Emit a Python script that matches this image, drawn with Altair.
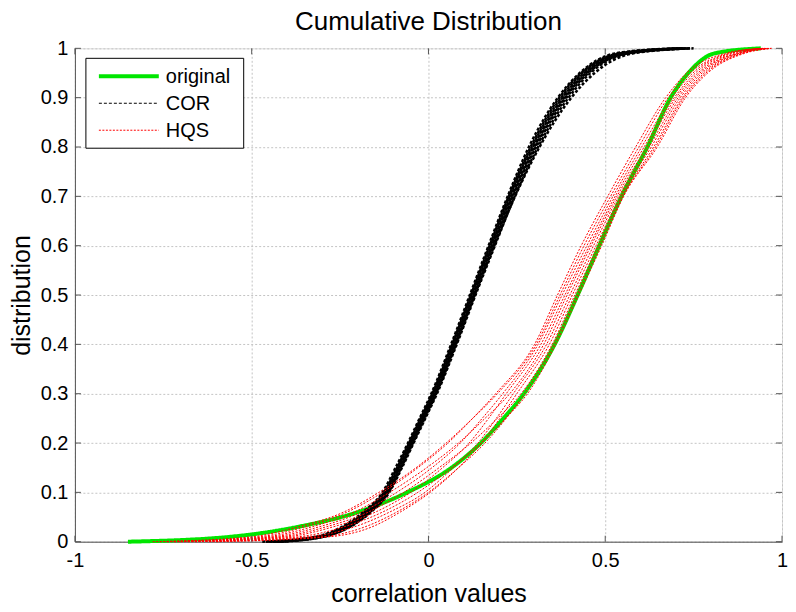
import altair as alt
import pandas as pd

# ---- data (x positions at fixed cumulative levels) ----
levels = [0, 0.01, 0.03, 0.06, 0.1, 0.15, 0.2, 0.25, 0.3, 0.4, 0.5, 0.6, 0.7, 0.8, 0.9, 0.95, 0.99, 1.0]

original_x = [-0.85, -0.56, -0.37, -0.20, -0.06, 0.065, 0.148, 0.212, 0.270, 0.357, 0.422, 0.483, 0.546, 0.619, 0.685, 0.735, 0.81, 0.94]

cor_1 = [-0.47, -0.32, -0.245, -0.185, -0.130, -0.093, -0.058, -0.025, 0.008, 0.064, 0.117, 0.170, 0.224, 0.284, 0.366, 0.428, 0.53, 0.70]
cor_2 = [-0.46, -0.315, -0.240, -0.180, -0.126, -0.089, -0.055, -0.022, 0.011, 0.067, 0.120, 0.173, 0.227, 0.289, 0.370, 0.432, 0.54, 0.71]
cor_3 = [-0.45, -0.310, -0.237, -0.177, -0.123, -0.087, -0.053, -0.020, 0.013, 0.069, 0.122, 0.176, 0.230, 0.292, 0.375, 0.436, 0.545, 0.72]
cor_4 = [-0.44, -0.305, -0.233, -0.173, -0.120, -0.084, -0.050, -0.017, 0.016, 0.072, 0.125, 0.179, 0.233, 0.296, 0.379, 0.440, 0.55, 0.72]
cor_5 = [-0.45, -0.308, -0.230, -0.170, -0.118, -0.082, -0.048, -0.015, 0.018, 0.074, 0.127, 0.181, 0.236, 0.299, 0.383, 0.445, 0.555, 0.73]
cor_6 = [-0.43, -0.300, -0.227, -0.167, -0.115, -0.079, -0.046, -0.013, 0.020, 0.076, 0.129, 0.183, 0.238, 0.302, 0.386, 0.448, 0.56, 0.73]
cor_7 = [-0.44, -0.298, -0.224, -0.165, -0.113, -0.077, -0.044, -0.011, 0.022, 0.078, 0.131, 0.185, 0.240, 0.305, 0.390, 0.452, 0.565, 0.74]
cor_8 = [-0.42, -0.295, -0.222, -0.163, -0.111, -0.075, -0.042, -0.009, 0.024, 0.080, 0.133, 0.188, 0.244, 0.310, 0.396, 0.458, 0.57, 0.74]
cor_9 = [-0.43, -0.302, -0.228, -0.168, -0.117, -0.080, -0.047, -0.014, 0.019, 0.076, 0.130, 0.186, 0.245, 0.314, 0.404, 0.470, 0.58, 0.75]

hqs_1 = [-0.78, -0.50, -0.37, -0.24, -0.14, -0.035, 0.050, 0.125, 0.195, 0.305, 0.372, 0.440, 0.515, 0.595, 0.678, 0.740, 0.850, 0.945]
hqs_2 = [-0.76, -0.48, -0.35, -0.23, -0.13, -0.030, 0.055, 0.125, 0.190, 0.300, 0.365, 0.432, 0.507, 0.586, 0.671, 0.730, 0.840, 0.940]
hqs_3 = [-0.74, -0.46, -0.33, -0.21, -0.11, -0.005, 0.085, 0.160, 0.230, 0.326, 0.392, 0.460, 0.533, 0.617, 0.700, 0.762, 0.870, 0.955]
hqs_4 = [-0.72, -0.44, -0.31, -0.19, -0.09, 0.010, 0.090, 0.152, 0.210, 0.310, 0.378, 0.448, 0.522, 0.603, 0.688, 0.748, 0.855, 0.950]
hqs_5 = [-0.72, -0.42, -0.29, -0.17, -0.07, 0.030, 0.120, 0.195, 0.262, 0.350, 0.414, 0.480, 0.547, 0.637, 0.718, 0.780, 0.885, 0.965]
hqs_6 = [-0.70, -0.40, -0.27, -0.15, -0.05, 0.040, 0.115, 0.170, 0.220, 0.318, 0.386, 0.455, 0.528, 0.610, 0.695, 0.755, 0.862, 0.950]
hqs_7 = [-0.68, -0.37, -0.24, -0.13, -0.03, 0.065, 0.150, 0.218, 0.280, 0.360, 0.425, 0.490, 0.552, 0.647, 0.727, 0.790, 0.895, 0.970]
hqs_8 = [-0.66, -0.34, -0.21, -0.11, -0.01, 0.070, 0.140, 0.192, 0.240, 0.334, 0.400, 0.467, 0.538, 0.624, 0.706, 0.768, 0.875, 0.960]
hqs_9 = [-0.62, -0.30, -0.18, -0.09, 0.00, 0.085, 0.160, 0.220, 0.272, 0.355, 0.420, 0.485, 0.550, 0.642, 0.722, 0.785, 0.890, 0.970]
hqs_10 = [-0.60, -0.28, -0.16, -0.08, 0.005, 0.085, 0.150, 0.202, 0.250, 0.342, 0.407, 0.474, 0.543, 0.630, 0.712, 0.774, 0.880, 0.960]

series_names = ["original", "COR", "HQS"]
series_colors = ["#00e600", "#000000", "#ff0000"]
series_dashes = [[1, 0], [3, 2], [2, 1.5]]
series_widths = [4, 1, 1]
x_ticks = [-1, -0.5, 0, 0.5, 1]
y_ticks = [0, 0.1, 0.2, 0.3, 0.4, 0.5, 0.6, 0.7, 0.8, 0.9, 1]

curves = [("original", "o", original_x)]
curves += [("COR", f"c{i+1}", c) for i, c in enumerate([cor_1, cor_2, cor_3, cor_4, cor_5, cor_6, cor_7, cor_8, cor_9])]
curves += [("HQS", f"h{i+1}", c) for i, c in enumerate([hqs_1, hqs_2, hqs_3, hqs_4, hqs_5, hqs_6, hqs_7, hqs_8, hqs_9, hqs_10])]

rows = []
for s, cid, xs in curves:
    for xv, yv in zip(xs, levels):
        rows.append({"series": s, "curve": cid, "x": xv, "y": yv})
df = pd.DataFrame(rows)

W, H = 708, 494
FONT = "Liberation Sans"

xscale = alt.Scale(domain=[-1, 1], nice=False, zero=False)
yscale = alt.Scale(domain=[0, 1], nice=False, zero=False)

grid_kw = dict(grid=True, gridDash=[2, 2], gridColor="#c4c4c4", gridWidth=1,
               domainColor="#555555", tickSize=0, labelColor="black", titleColor="black",
               labelFont=FONT, titleFont=FONT, labelFontSize=20, titleFontSize=25,
               titleFontWeight="normal")

xaxis = alt.Axis(values=x_ticks, title="correlation values", labelFlush=False,
                 labelExpr="datum.value < 0 ? '' + datum.value + '\u00a0\u00a0' : '' + datum.value",
                 labelPadding=9, titlePadding=11, **grid_kw)
yaxis = alt.Axis(values=y_ticks, title="distribution", labelExpr="'' + datum.value",
                 labelPadding=7, titlePadding=6, **grid_kw)

color = alt.Color("series:N", scale=alt.Scale(domain=series_names, range=series_colors), legend=None)
dash = alt.StrokeDash("series:N", scale=alt.Scale(domain=series_names, range=series_dashes), legend=None)
width = alt.StrokeWidth("series:N", scale=alt.Scale(domain=series_names, range=series_widths), legend=None)

base = alt.Chart(df).encode(
    x=alt.X("x:Q", scale=xscale, axis=xaxis),
    y=alt.Y("y:Q", scale=yscale, axis=yaxis),
    detail="curve:N",
    color=color,
    strokeDash=dash,
    strokeWidth=width,
)

layers = [
    base.transform_filter(alt.datum.series == s).mark_line(interpolate="monotone", strokeCap="butt")
    for s in series_names
]

# inward ticks on all four sides (MATLAB box style)
xt = pd.DataFrame({"x": x_ticks})
yt = pd.DataFrame({"y": y_ticks})
tick_color = "#555555"
tick_bottom = alt.Chart(xt).mark_rule(color=tick_color).encode(
    x=alt.X("x:Q", scale=xscale, axis=xaxis), y=alt.value(H), y2=alt.value(H - 6))
tick_top = alt.Chart(xt).mark_rule(color=tick_color).encode(
    x=alt.X("x:Q", scale=xscale, axis=xaxis), y=alt.value(0), y2=alt.value(6))
tick_left = alt.Chart(yt).mark_rule(color=tick_color).encode(
    y=alt.Y("y:Q", scale=yscale, axis=yaxis), x=alt.value(0), x2=alt.value(6))
tick_right = alt.Chart(yt).mark_rule(color=tick_color).encode(
    y=alt.Y("y:Q", scale=yscale, axis=yaxis), x=alt.value(W), x2=alt.value(W - 6))

# legend box (drawn inside the plot, top-left like MATLAB)
leg_box = alt.Chart(pd.DataFrame({"a": [0]})).mark_rect(
    fill="white", stroke="black", strokeWidth=1).encode(
    x=alt.value(11), x2=alt.value(169), y=alt.value(10), y2=alt.value(100))
row_y = [28, 55, 82]
leg_items = []
for name, col, dsh, wd, ry in zip(series_names, series_colors, series_dashes, series_widths, row_y):
    ldf = pd.DataFrame({"series": [name]})
    leg_items.append(
        alt.Chart(ldf).mark_rule(color=col, strokeDash=dsh, strokeWidth=wd, strokeCap="butt").encode(
            x=alt.value(24), x2=alt.value(84), y=alt.value(ry)))
    leg_items.append(
        alt.Chart(ldf).mark_text(align="left", baseline="middle", font=FONT, fontSize=20, color="black").encode(
            text="series:N", x=alt.value(91), y=alt.value(ry + 1)))

chart = alt.layer(*layers, tick_bottom, tick_top, tick_left, tick_right, leg_box, *leg_items).properties(
    width=W, height=H,
    title=alt.TitleParams("Cumulative Distribution", fontSize=26, font=FONT,
                          fontWeight="normal", color="black", anchor="middle", offset=3),
    padding={"left": 67, "top": 40, "right": 6, "bottom": 66},
    autosize=alt.AutoSizeParams(type="none"),
).configure_view(stroke="#555555", strokeWidth=1).configure(background="white")

chart.save("out.html", embed_options={"renderer": "svg", "actions": False})
